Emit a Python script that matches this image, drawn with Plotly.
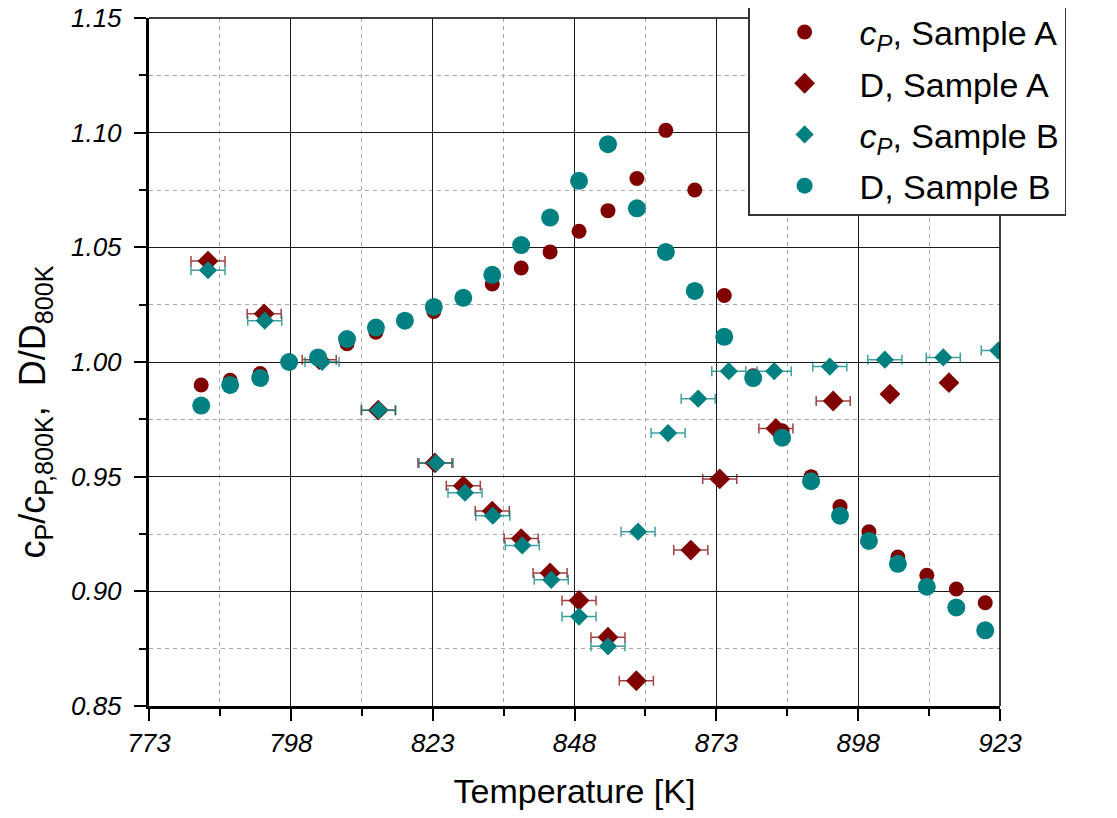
import plotly.graph_objects as go

# ---- data ----
T_cp_A = [782.2, 787.3, 792.6, 797.7, 802.8, 807.9, 813.0, 818.1, 823.2, 828.4, 833.5, 838.6, 843.7,
          848.8, 853.9, 859.0, 864.1, 869.2, 874.4, 879.5, 884.6, 889.7, 894.8, 899.9, 905.0, 910.1,
          915.3, 920.4]
cp_A = [0.990, 0.992, 0.995, 1.000, 1.002, 1.008, 1.013, 1.018, 1.022, 1.028, 1.034, 1.041, 1.048,
        1.057, 1.066, 1.080, 1.101, 1.075, 1.029, 0.994, 0.970, 0.950, 0.937, 0.926, 0.915, 0.907,
        0.901, 0.895]

T_D_A = [783.4, 793.3, 803.0, 813.4, 823.4, 828.4, 833.5, 838.6, 843.7, 848.8, 853.9, 858.9,
         868.5, 873.6, 883.5, 893.6, 903.6, 914.0]
D_A = [1.044, 1.021, 1.001, 0.979, 0.956, 0.946, 0.935, 0.923, 0.908, 0.896, 0.880, 0.861,
       0.918, 0.949, 0.971, 0.983, 0.986, 0.991]
D_A_err = [3, 3, 3, 3, 3, 3, 3, 3, 3, 3, 3, 3, 3, 3, 3, 3, 0, 0]

T_cp_B = [783.4, 793.4, 803.5, 813.5, 823.6, 828.7, 833.6, 838.8, 843.9, 848.8, 853.9, 859.2,
          864.5, 869.8, 875.2, 883.2, 893.0, 902.7, 913.0, 922.7]
cp_B = [1.040, 1.018, 1.000, 0.979, 0.956, 0.943, 0.933, 0.920, 0.905, 0.889, 0.876, 0.926,
        0.969, 0.984, 0.996, 0.996, 0.998, 1.001, 1.002, 1.005]
cp_B_err = [3] * len(T_cp_B)

T_D_B = [782.2, 787.3, 792.6, 797.7, 802.8, 807.9, 813.0, 818.1, 823.2, 828.4, 833.5, 838.6, 843.7,
         848.8, 853.9, 859.0, 864.1, 869.2, 874.4, 879.5, 884.6, 889.7, 894.8, 899.9, 905.0, 910.1,
         915.3, 920.4]
D_B = [0.981, 0.990, 0.993, 1.000, 1.002, 1.010, 1.015, 1.018, 1.024, 1.028, 1.038, 1.051, 1.063,
       1.079, 1.095, 1.067, 1.048, 1.031, 1.011, 0.993, 0.967, 0.948, 0.933, 0.922, 0.912, 0.902,
       0.893, 0.883]

x_ticks = [773, 798, 823, 848, 873, 898, 923]
y_ticks = [0.85, 0.90, 0.95, 1.00, 1.05, 1.10, 1.15]

MAROON = "#800000"
TEAL = "#008080"
FONT = "Liberation Sans, Arial, sans-serif"

fig = go.Figure()
fig.add_trace(go.Scatter(
    x=T_cp_A, y=cp_A, mode="markers", name="<i>c<sub>P</sub></i>, Sample A", legendgroup="a",
    marker=dict(symbol="circle", size=15, color=MAROON),
))
fig.add_trace(go.Scatter(
    x=T_D_A, y=D_A, mode="markers", name="D, Sample A", legendgroup="b",
    marker=dict(symbol="diamond", size=16, color=MAROON),
    error_x=dict(type="data", array=D_A_err, color="rgba(128,0,0,0.75)", thickness=1.5, width=5),
))
fig.add_trace(go.Scatter(
    x=T_cp_B, y=cp_B, mode="markers", name="<i>c<sub>P</sub></i>, Sample B", legendgroup="c",
    marker=dict(symbol="diamond", size=14, color=TEAL),
    error_x=dict(type="data", array=cp_B_err, color="rgba(0,128,128,0.75)", thickness=1.5, width=5),
))
fig.add_trace(go.Scatter(
    x=T_D_B, y=D_B, mode="markers", name="D, Sample B", legendgroup="d",
    marker=dict(symbol="circle", size=18, color=TEAL),
))

fig.update_layout(
    width=1117, height=818,
    margin=dict(l=141, r=125, t=10, b=120, autoexpand=False),
    paper_bgcolor="white", plot_bgcolor="white",
    font=dict(family=FONT, color="black"),
    showlegend=True,
    legend=dict(
        x=0.704, y=1.0233, xanchor="left", yanchor="top",
        bgcolor="white", bordercolor="#333333", borderwidth=1.5,
        font=dict(size=34, family=FONT, color="black"),
        itemwidth=100, tracegroupgap=4, traceorder="grouped",
    ),
)

fig.update_xaxes(
    range=[773, 923], tickvals=x_ticks, ticktext=[str(v) for v in x_ticks],
    ticks="outside", ticklen=12, tickwidth=2, tickcolor="black", ticklabeloverflow="allow",
    tickfont=dict(size=26, family=FONT, style="italic"),
    showline=True, linewidth=3, linecolor="black",
    showgrid=True, gridcolor="#1a1a1a", gridwidth=1,
    minor=dict(dtick=12.5, tick0=773, ticks="outside", ticklen=7, tickwidth=2, tickcolor="black",
               showgrid=True, gridcolor="#a8a8a8", griddash="4px,4px", gridwidth=1.2),
    title=dict(text="Temperature [K]", font=dict(size=34, family=FONT), standoff=22),
    zeroline=False,
)
fig.update_yaxes(
    range=[0.85, 1.15], tickvals=y_ticks, ticktext=[f"{v:.2f}\u00a0" for v in y_ticks],
    ticks="outside", ticklen=12, tickwidth=2, tickcolor="black", ticklabeloverflow="allow",
    tickfont=dict(size=26, family=FONT, style="italic"),
    showline=True, linewidth=3, linecolor="black",
    showgrid=True, gridcolor="#1a1a1a", gridwidth=1,
    minor=dict(dtick=0.025, tick0=0.85, ticks="outside", ticklen=7, tickwidth=2, tickcolor="black",
               showgrid=True, gridcolor="#a8a8a8", griddash="4px,4px", gridwidth=1.2),
    zeroline=False,
)

# y-axis title (placed as in the reference, slightly below centre)
fig.add_annotation(
    text="c<sub>P</sub>/c<sub>P,800K</sub>,  D/D<sub>800K</sub>",
    xref="paper", yref="paper", x=-0.134, y=0.428, xanchor="center", yanchor="middle",
    textangle=-90, showarrow=False, font=dict(size=36, family=FONT, color="black"),
)

# plot frame (top and right edges)
fig.add_shape(type="line", xref="paper", yref="paper", x0=0, y0=1, x1=1, y1=1,
              line=dict(color="black", width=1.5), layer="above")
fig.add_shape(type="line", xref="paper", yref="paper", x0=1, y0=0, x1=1, y1=1,
              line=dict(color="black", width=1.5), layer="above")

fig.write_html("out.html")
